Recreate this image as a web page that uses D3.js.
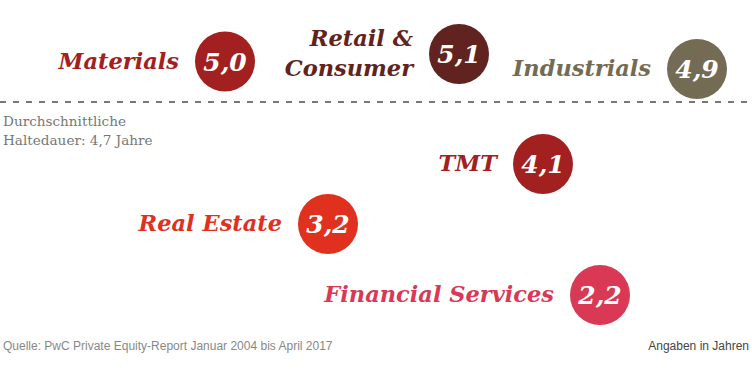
<!DOCTYPE html>
<html>
<head>
<meta charset="utf-8">
<script src="https://cdn.jsdelivr.net/npm/d3@7"></script>
<style>
  body { margin: 0; background: #fff; }
  svg { display: block; }
</style>
</head>
<body>
<div id="chart"></div>
<script>
// sectors and average holding period (years)
const sectors = ["Materials", "Retail &\nConsumer", "Industrials", "TMT", "Real Estate", "Financial Services"];
const years = [5.0, 5.1, 4.9, 4.1, 3.2, 2.2];
const colors = ["#a32020", "#602320", "#736b53", "#a32020", "#e0301e", "#d93954"];
const average = 4.7;

const width = 752, height = 370, radius = 30;

const svg = d3.select("#chart")
  .append("svg")
  .attr("width", width)
  .attr("height", height);

// vertical position follows the value (hand-laid out in the original, so polylinear)
const yScale = d3.scaleLinear()
  .domain([2.2, 3.2, 4.1, 4.7, 4.9, 5.1])
  .range([295, 224, 164, 102, 69, 54]);

// horizontal slot per sector
const xScale = d3.scaleOrdinal()
  .domain(sectors)
  .range([225, 459, 697, 543, 328, 600]);

const fmt = v => d3.format(".1f")(v).replace(".", ",");

const data = sectors.map((s, i) => ({ sector: s, value: years[i], color: colors[i] }));

// average line
svg.append("line")
  .attr("x1", 0)
  .attr("x2", width)
  .attr("y1", yScale(average))
  .attr("y2", yScale(average))
  .attr("stroke", "#777")
  .attr("stroke-width", 2)
  .attr("stroke-dasharray", "6,7");

svg.append("text")
  .attr("x", 3)
  .attr("y", yScale(average) + 24)
  .attr("fill", "#777")
  .style("font-family", "'DejaVu Serif', serif")
  .style("font-size", "13.6px")
  .selectAll("tspan")
  .data(["Durchschnittliche", "Haltedauer: " + fmt(average) + " Jahre"])
  .join("tspan")
  .attr("x", 3)
  .attr("dy", (d, i) => i ? 19 : 0)
  .text(d => d);

const g = svg.selectAll(".sector")
  .data(data)
  .join("g")
  .attr("class", "sector")
  .attr("transform", d => `translate(${xScale(d.sector)},${yScale(d.value)})`);

g.append("circle")
  .attr("r", radius)
  .attr("fill", d => d.color);

g.append("text")
  .attr("text-anchor", "middle")
  .attr("y", 9)
  .attr("fill", "#fff")
  .style("font-family", "'DejaVu Serif', serif")
  .style("font-weight", "bold")
  .style("font-style", "italic")
  .style("font-size", "25px")
  .text(d => fmt(d.value));

g.append("text")
  .attr("text-anchor", "end")
  .attr("fill", d => d.color)
  .style("font-family", "'DejaVu Serif', serif")
  .style("font-weight", "bold")
  .style("font-style", "italic")
  .style("font-size", "22.5px")
  .each(function(d) {
    const lines = d.sector.split("\n");
    d3.select(this).selectAll("tspan")
      .data(lines)
      .join("tspan")
      .attr("x", -radius - 16)
      .attr("y", (l, i) => 7 + (i - (lines.length - 1) / 2) * 30)
      .text(l => l);
  });

// footer
svg.append("text")
  .attr("x", 3)
  .attr("y", 350)
  .attr("fill", "#888")
  .style("font-family", "'Liberation Sans', Arial, sans-serif")
  .style("font-size", "12px")
  .text("Quelle: PwC Private Equity-Report Januar 2004 bis April 2017");

svg.append("text")
  .attr("x", width - 3)
  .attr("y", 350)
  .attr("text-anchor", "end")
  .attr("fill", "#444")
  .style("font-family", "'Liberation Sans', Arial, sans-serif")
  .style("font-size", "12px")
  .text("Angaben in Jahren");
</script>
</body>
</html>
